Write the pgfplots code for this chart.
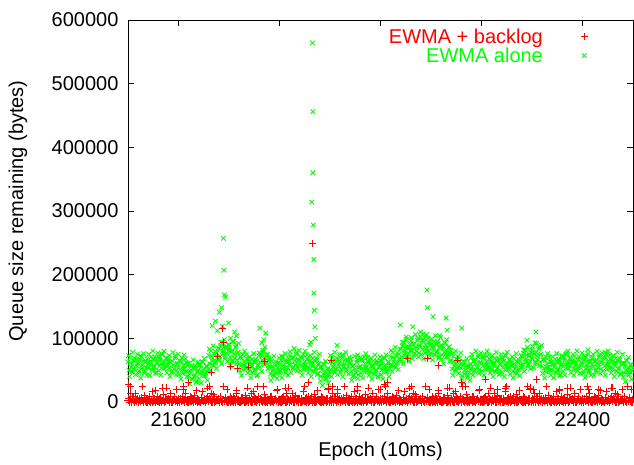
\documentclass[border=0pt]{standalone}
\usepackage{fontspec}
\setmainfont{Liberation Sans}
\usepackage{pgfplots}
\pgfplotsset{compat=1.18}
\definecolor{gpred}{RGB}{255,0,0}
\definecolor{gpgreen}{RGB}{0,255,0}
\newcommand\gpfont{\fontsize{20}{24}\selectfont}

\begin{document}
\begin{tikzpicture}[font=\gpfont]
\begin{axis}[
  at={(0,0)}, anchor=south west,
  scale only axis, width=505pt, height=382pt,
  xmin=21500, xmax=22500, ymin=0, ymax=600,
  xtick={21600,21800,22000,22200,22400},
  ytick={0,100,200,300,400,500,600},
  yticklabels={0,100000,200000,300000,400000,500000,600000},
  scaled x ticks=false,
  /pgf/number format/1000 sep={},
  /pgf/number format/assume math mode=true,
  tick align=inside, tick pos=both, major tick length=6pt,
  every tick/.style={black, line width=0.8pt},
  axis line style={line width=0.8pt},
  tick label style={font=\gpfont},
  label style={font=\gpfont},
  xticklabel style={yshift=-7pt},
  yticklabel style={xshift=-6pt},
  xlabel={Epoch (10ms)}, ylabel={Queue size remaining (bytes)},
  xlabel style={at={(axis description cs:0.5,-0.1283)}, anchor=center},
  ylabel style={at={(axis description cs:-0.2178,0.5)}, anchor=center},
  clip=false,
  reverse legend,
  legend cell align=right, legend plot pos=right,
  legend style={at={(axis description cs:0.917,0.986)}, anchor=north east,
    draw=none, fill=none, font=\gpfont, column sep=37pt, row sep=1pt,
    nodes={inner sep=1pt}},
  gpg/.style={only marks, mark=x, mark size=3.2pt, color=gpgreen, mark options={line width=0.9pt}},
  gpr/.style={only marks, mark=+, mark size=3.5pt, color=gpred, mark options={draw=gpred, line width=0.9pt}},
]
% EWMA alone (values in units of 1000 bytes)
\addplot[gpg] table[row sep=\\] {x y\\
21500 63\\ 21502 50\\ 21504 70\\ 21506 55\\ 21508 59\\ 21510 47\\ 21512 65\\ 21514 53\\ 21516 67\\ 21518 56\\
21520 61\\ 21522 49\\ 21524 72\\ 21526 52\\ 21528 58\\ 21530 64\\ 21532 46\\ 21534 62\\ 21536 54\\ 21538 68\\
21540 53\\ 21542 63\\ 21544 59\\ 21546 71\\ 21548 50\\ 21550 66\\ 21552 56\\ 21554 68\\ 21556 47\\ 21558 62\\
21560 71\\ 21562 56\\ 21564 66\\ 21566 60\\ 21568 75\\ 21570 53\\ 21572 63\\ 21574 57\\ 21576 69\\ 21578 59\\
21580 68\\ 21582 54\\ 21584 62\\ 21586 46\\ 21588 64\\ 21590 58\\ 21592 52\\ 21594 72\\ 21596 49\\ 21598 61\\
21600 54\\ 21602 65\\ 21604 51\\ 21606 63\\ 21608 45\\ 21610 57\\ 21612 53\\ 21614 68\\ 21616 48\\ 21618 61\\
21620 39\\ 21622 49\\ 21624 45\\ 21626 57\\ 21628 36\\ 21630 52\\ 21632 42\\ 21634 54\\ 21636 33\\ 21638 48\\
21640 59\\ 21642 44\\ 21644 54\\ 21646 48\\ 21648 63\\ 21650 41\\ 21652 51\\ 21654 45\\ 21656 57\\ 21658 47\\
21660 73\\ 21662 60\\ 21664 80\\ 21666 65\\ 21668 69\\ 21670 57\\ 21672 75\\ 21674 63\\ 21676 77\\ 21678 66\\
21680 83\\ 21682 71\\ 21684 94\\ 21686 74\\ 21688 80\\ 21690 86\\ 21692 68\\ 21694 84\\ 21696 76\\ 21698 90\\
21700 85\\ 21702 71\\ 21704 79\\ 21706 63\\ 21708 81\\ 21710 75\\ 21712 69\\ 21714 89\\ 21716 66\\ 21718 78\\
21720 60\\ 21722 71\\ 21724 57\\ 21726 69\\ 21728 51\\ 21730 63\\ 21732 59\\ 21734 74\\ 21736 54\\ 21738 67\\
21740 49\\ 21742 59\\ 21744 55\\ 21746 67\\ 21748 46\\ 21750 62\\ 21752 52\\ 21754 64\\ 21756 43\\ 21758 58\\
21760 77\\ 21762 62\\ 21764 72\\ 21766 66\\ 21768 81\\ 21770 59\\ 21772 69\\ 21774 63\\ 21776 75\\ 21778 65\\
21780 57\\ 21782 44\\ 21784 64\\ 21786 49\\ 21788 53\\ 21790 41\\ 21792 59\\ 21794 47\\ 21796 61\\ 21798 50\\
21800 61\\ 21802 49\\ 21804 72\\ 21806 52\\ 21808 58\\ 21810 64\\ 21812 46\\ 21814 62\\ 21816 54\\ 21818 68\\
21820 74\\ 21822 60\\ 21824 68\\ 21826 52\\ 21828 70\\ 21830 64\\ 21832 58\\ 21834 78\\ 21836 55\\ 21838 67\\
21840 60\\ 21842 71\\ 21844 57\\ 21846 69\\ 21848 51\\ 21850 63\\ 21852 59\\ 21854 74\\ 21856 54\\ 21858 67\\
21860 51\\ 21862 61\\ 21864 57\\ 21866 69\\ 21868 48\\ 21870 64\\ 21872 54\\ 21874 66\\ 21876 45\\ 21878 60\\
21880 55\\ 21882 40\\ 21884 50\\ 21886 44\\ 21888 59\\ 21890 37\\ 21892 47\\ 21894 41\\ 21896 53\\ 21898 43\\
21900 63\\ 21902 50\\ 21904 70\\ 21906 55\\ 21908 59\\ 21910 47\\ 21912 65\\ 21914 53\\ 21916 67\\ 21918 56\\
21920 63\\ 21922 51\\ 21924 74\\ 21926 54\\ 21928 60\\ 21930 66\\ 21932 48\\ 21934 64\\ 21936 56\\ 21938 70\\
21940 62\\ 21942 48\\ 21944 56\\ 21946 40\\ 21948 58\\ 21950 52\\ 21952 46\\ 21954 66\\ 21956 43\\ 21958 55\\
21960 56\\ 21962 67\\ 21964 53\\ 21966 65\\ 21968 47\\ 21970 59\\ 21972 55\\ 21974 70\\ 21976 50\\ 21978 63\\
21980 47\\ 21982 57\\ 21984 53\\ 21986 65\\ 21988 44\\ 21990 60\\ 21992 50\\ 21994 62\\ 21996 41\\ 21998 56\\
22000 65\\ 22002 50\\ 22004 60\\ 22006 54\\ 22008 69\\ 22010 47\\ 22012 57\\ 22014 51\\ 22016 63\\ 22018 53\\
22020 71\\ 22022 58\\ 22024 78\\ 22026 63\\ 22028 67\\ 22030 55\\ 22032 73\\ 22034 61\\ 22036 75\\ 22038 64\\
22040 83\\ 22042 71\\ 22044 94\\ 22046 74\\ 22048 80\\ 22050 86\\ 22052 68\\ 22054 84\\ 22056 76\\ 22058 90\\
22060 96\\ 22062 82\\ 22064 90\\ 22066 74\\ 22068 92\\ 22070 86\\ 22072 80\\ 22074 100\\ 22076 77\\ 22078 89\\
22080 86\\ 22082 97\\ 22084 83\\ 22086 95\\ 22088 77\\ 22090 89\\ 22092 85\\ 22094 100\\ 22096 80\\ 22098 93\\
22100 77\\ 22102 87\\ 22104 83\\ 22106 95\\ 22108 74\\ 22110 90\\ 22112 80\\ 22114 92\\ 22116 71\\ 22118 86\\
22120 89\\ 22122 74\\ 22124 84\\ 22126 78\\ 22128 93\\ 22130 71\\ 22132 81\\ 22134 75\\ 22136 87\\ 22138 77\\
22140 65\\ 22142 52\\ 22144 72\\ 22146 57\\ 22148 61\\ 22150 49\\ 22152 67\\ 22154 55\\ 22156 69\\ 22158 58\\
22160 53\\ 22162 41\\ 22164 64\\ 22166 44\\ 22168 50\\ 22170 56\\ 22172 38\\ 22174 54\\ 22176 46\\ 22178 60\\
22180 70\\ 22182 56\\ 22184 64\\ 22186 48\\ 22188 66\\ 22190 60\\ 22192 54\\ 22194 74\\ 22196 51\\ 22198 63\\
22200 60\\ 22202 71\\ 22204 57\\ 22206 69\\ 22208 51\\ 22210 63\\ 22212 59\\ 22214 74\\ 22216 54\\ 22218 67\\
22220 51\\ 22222 61\\ 22224 57\\ 22226 69\\ 22228 48\\ 22230 64\\ 22232 54\\ 22234 66\\ 22236 45\\ 22238 60\\
22240 69\\ 22242 54\\ 22244 64\\ 22246 58\\ 22248 73\\ 22250 51\\ 22252 61\\ 22254 55\\ 22256 67\\ 22258 57\\
22260 61\\ 22262 48\\ 22264 68\\ 22266 53\\ 22268 57\\ 22270 45\\ 22272 63\\ 22274 51\\ 22276 65\\ 22278 54\\
22280 71\\ 22282 59\\ 22284 82\\ 22286 62\\ 22288 68\\ 22290 74\\ 22292 56\\ 22294 72\\ 22296 64\\ 22298 78\\
22300 82\\ 22302 68\\ 22304 76\\ 22306 60\\ 22308 78\\ 22310 72\\ 22312 66\\ 22314 86\\ 22316 63\\ 22318 75\\
22320 56\\ 22322 67\\ 22324 53\\ 22326 65\\ 22328 47\\ 22330 59\\ 22332 55\\ 22334 70\\ 22336 50\\ 22338 63\\
22340 49\\ 22342 59\\ 22344 55\\ 22346 67\\ 22348 46\\ 22350 62\\ 22352 52\\ 22354 64\\ 22356 43\\ 22358 58\\
22360 71\\ 22362 56\\ 22364 66\\ 22366 60\\ 22368 75\\ 22370 53\\ 22372 63\\ 22374 57\\ 22376 69\\ 22378 59\\
22380 65\\ 22382 52\\ 22384 72\\ 22386 57\\ 22388 61\\ 22390 49\\ 22392 67\\ 22394 55\\ 22396 69\\ 22398 58\\
22400 61\\ 22402 49\\ 22404 72\\ 22406 52\\ 22408 58\\ 22410 64\\ 22412 46\\ 22414 62\\ 22416 54\\ 22418 68\\
22420 70\\ 22422 56\\ 22424 64\\ 22426 48\\ 22428 66\\ 22430 60\\ 22432 54\\ 22434 74\\ 22436 51\\ 22438 63\\
22440 60\\ 22442 71\\ 22444 57\\ 22446 69\\ 22448 51\\ 22450 63\\ 22452 59\\ 22454 74\\ 22456 54\\ 22458 67\\
22460 51\\ 22462 61\\ 22464 57\\ 22466 69\\ 22468 48\\ 22470 64\\ 22472 54\\ 22474 66\\ 22476 45\\ 22478 60\\
22480 61\\ 22482 46\\ 22484 56\\ 22486 50\\ 22488 65\\ 22490 43\\ 22492 53\\ 22494 47\\ 22496 59\\ 22498 49\\
21501 73\\ 21503 40\\ 21505 62\\ 21507 48\\ 21509 78\\ 21511 52\\ 21513 69\\ 21515 43\\ 21517 60\\ 21519 75\\
21521 45\\ 21523 66\\ 21525 38\\ 21527 71\\ 21529 54\\ 21531 76\\ 21533 49\\ 21535 64\\ 21537 42\\ 21539 59\\
21541 75\\ 21543 42\\ 21545 64\\ 21547 50\\ 21549 80\\ 21551 54\\ 21553 71\\ 21555 45\\ 21557 62\\ 21559 77\\
21561 49\\ 21563 70\\ 21565 42\\ 21567 75\\ 21569 58\\ 21571 80\\ 21573 53\\ 21575 68\\ 21577 46\\ 21579 63\\
21581 73\\ 21583 40\\ 21585 62\\ 21587 48\\ 21589 78\\ 21591 52\\ 21593 69\\ 21595 43\\ 21597 60\\ 21599 75\\
21601 43\\ 21603 64\\ 21605 36\\ 21607 69\\ 21609 52\\ 21611 74\\ 21613 47\\ 21615 62\\ 21617 40\\ 21619 57\\
21621 61\\ 21623 28\\ 21625 50\\ 21627 36\\ 21629 66\\ 21631 40\\ 21633 57\\ 21635 31\\ 21637 48\\ 21639 63\\
21641 37\\ 21643 58\\ 21645 30\\ 21647 63\\ 21649 46\\ 21651 68\\ 21653 41\\ 21655 56\\ 21657 34\\ 21659 51\\
21661 83\\ 21663 50\\ 21665 72\\ 21667 58\\ 21669 88\\ 21671 62\\ 21673 79\\ 21675 53\\ 21677 70\\ 21679 85\\
21681 67\\ 21683 88\\ 21685 60\\ 21687 93\\ 21689 76\\ 21691 98\\ 21693 71\\ 21695 86\\ 21697 64\\ 21699 81\\
21701 90\\ 21703 57\\ 21705 79\\ 21707 65\\ 21709 95\\ 21711 69\\ 21713 86\\ 21715 60\\ 21717 77\\ 21719 92\\
21721 49\\ 21723 70\\ 21725 42\\ 21727 75\\ 21729 58\\ 21731 80\\ 21733 53\\ 21735 68\\ 21737 46\\ 21739 63\\
21741 71\\ 21743 38\\ 21745 60\\ 21747 46\\ 21749 76\\ 21751 50\\ 21753 67\\ 21755 41\\ 21757 58\\ 21759 73\\
21761 55\\ 21763 76\\ 21765 48\\ 21767 81\\ 21769 64\\ 21771 86\\ 21773 59\\ 21775 74\\ 21777 52\\ 21779 69\\
21781 67\\ 21783 34\\ 21785 56\\ 21787 42\\ 21789 72\\ 21791 46\\ 21793 63\\ 21795 37\\ 21797 54\\ 21799 69\\
21801 45\\ 21803 66\\ 21805 38\\ 21807 71\\ 21809 54\\ 21811 76\\ 21813 49\\ 21815 64\\ 21817 42\\ 21819 59\\
21821 79\\ 21823 46\\ 21825 68\\ 21827 54\\ 21829 84\\ 21831 58\\ 21833 75\\ 21835 49\\ 21837 66\\ 21839 81\\
21841 49\\ 21843 70\\ 21845 42\\ 21847 75\\ 21849 58\\ 21851 80\\ 21853 53\\ 21855 68\\ 21857 46\\ 21859 63\\
21861 73\\ 21863 40\\ 21865 62\\ 21867 48\\ 21869 78\\ 21871 52\\ 21873 69\\ 21875 43\\ 21877 60\\ 21879 75\\
21881 33\\ 21883 54\\ 21885 26\\ 21887 59\\ 21889 42\\ 21891 64\\ 21893 37\\ 21895 52\\ 21897 30\\ 21899 47\\
21901 73\\ 21903 40\\ 21905 62\\ 21907 48\\ 21909 78\\ 21911 52\\ 21913 69\\ 21915 43\\ 21917 60\\ 21919 75\\
21921 47\\ 21923 68\\ 21925 40\\ 21927 73\\ 21929 56\\ 21931 78\\ 21933 51\\ 21935 66\\ 21937 44\\ 21939 61\\
21941 67\\ 21943 34\\ 21945 56\\ 21947 42\\ 21949 72\\ 21951 46\\ 21953 63\\ 21955 37\\ 21957 54\\ 21959 69\\
21961 45\\ 21963 66\\ 21965 38\\ 21967 71\\ 21969 54\\ 21971 76\\ 21973 49\\ 21975 64\\ 21977 42\\ 21979 59\\
21981 69\\ 21983 36\\ 21985 58\\ 21987 44\\ 21989 74\\ 21991 48\\ 21993 65\\ 21995 39\\ 21997 56\\ 21999 71\\
22001 43\\ 22003 64\\ 22005 36\\ 22007 69\\ 22009 52\\ 22011 74\\ 22013 47\\ 22015 62\\ 22017 40\\ 22019 57\\
22021 81\\ 22023 48\\ 22025 70\\ 22027 56\\ 22029 86\\ 22031 60\\ 22033 77\\ 22035 51\\ 22037 68\\ 22039 83\\
22041 67\\ 22043 88\\ 22045 60\\ 22047 93\\ 22049 76\\ 22051 98\\ 22053 71\\ 22055 86\\ 22057 64\\ 22059 81\\
22061 101\\ 22063 68\\ 22065 90\\ 22067 76\\ 22069 106\\ 22071 80\\ 22073 97\\ 22075 71\\ 22077 88\\ 22079 103\\
22081 75\\ 22083 96\\ 22085 68\\ 22087 101\\ 22089 84\\ 22091 106\\ 22093 79\\ 22095 94\\ 22097 72\\ 22099 89\\
22101 99\\ 22103 66\\ 22105 88\\ 22107 74\\ 22109 104\\ 22111 78\\ 22113 95\\ 22115 69\\ 22117 86\\ 22119 101\\
22121 67\\ 22123 88\\ 22125 60\\ 22127 93\\ 22129 76\\ 22131 98\\ 22133 71\\ 22135 86\\ 22137 64\\ 22139 81\\
22141 75\\ 22143 42\\ 22145 64\\ 22147 50\\ 22149 80\\ 22151 54\\ 22153 71\\ 22155 45\\ 22157 62\\ 22159 77\\
22161 37\\ 22163 58\\ 22165 30\\ 22167 63\\ 22169 46\\ 22171 68\\ 22173 41\\ 22175 56\\ 22177 34\\ 22179 51\\
22181 75\\ 22183 42\\ 22185 64\\ 22187 50\\ 22189 80\\ 22191 54\\ 22193 71\\ 22195 45\\ 22197 62\\ 22199 77\\
22201 49\\ 22203 70\\ 22205 42\\ 22207 75\\ 22209 58\\ 22211 80\\ 22213 53\\ 22215 68\\ 22217 46\\ 22219 63\\
22221 73\\ 22223 40\\ 22225 62\\ 22227 48\\ 22229 78\\ 22231 52\\ 22233 69\\ 22235 43\\ 22237 60\\ 22239 75\\
22241 47\\ 22243 68\\ 22245 40\\ 22247 73\\ 22249 56\\ 22251 78\\ 22253 51\\ 22255 66\\ 22257 44\\ 22259 61\\
22261 71\\ 22263 38\\ 22265 60\\ 22267 46\\ 22269 76\\ 22271 50\\ 22273 67\\ 22275 41\\ 22277 58\\ 22279 73\\
22281 55\\ 22283 76\\ 22285 48\\ 22287 81\\ 22289 64\\ 22291 86\\ 22293 59\\ 22295 74\\ 22297 52\\ 22299 69\\
22301 87\\ 22303 54\\ 22305 76\\ 22307 62\\ 22309 92\\ 22311 66\\ 22313 83\\ 22315 57\\ 22317 74\\ 22319 89\\
22321 45\\ 22323 66\\ 22325 38\\ 22327 71\\ 22329 54\\ 22331 76\\ 22333 49\\ 22335 64\\ 22337 42\\ 22339 59\\
22341 71\\ 22343 38\\ 22345 60\\ 22347 46\\ 22349 76\\ 22351 50\\ 22353 67\\ 22355 41\\ 22357 58\\ 22359 73\\
22361 49\\ 22363 70\\ 22365 42\\ 22367 75\\ 22369 58\\ 22371 80\\ 22373 53\\ 22375 68\\ 22377 46\\ 22379 63\\
22381 75\\ 22383 42\\ 22385 64\\ 22387 50\\ 22389 80\\ 22391 54\\ 22393 71\\ 22395 45\\ 22397 62\\ 22399 77\\
22401 45\\ 22403 66\\ 22405 38\\ 22407 71\\ 22409 54\\ 22411 76\\ 22413 49\\ 22415 64\\ 22417 42\\ 22419 59\\
22421 75\\ 22423 42\\ 22425 64\\ 22427 50\\ 22429 80\\ 22431 54\\ 22433 71\\ 22435 45\\ 22437 62\\ 22439 77\\
22441 49\\ 22443 70\\ 22445 42\\ 22447 75\\ 22449 58\\ 22451 80\\ 22453 53\\ 22455 68\\ 22457 46\\ 22459 63\\
22461 73\\ 22463 40\\ 22465 62\\ 22467 48\\ 22469 78\\ 22471 52\\ 22473 69\\ 22475 43\\ 22477 60\\ 22479 75\\
22481 39\\ 22483 60\\ 22485 32\\ 22487 65\\ 22489 48\\ 22491 70\\ 22493 43\\ 22495 58\\ 22497 36\\ 22499 53\\
};
\addlegendentry{\textcolor{gpgreen}{EWMA alone}}
% EWMA alone: bursts
\addplot[gpg, forget plot] table[row sep=\\] {x y\\
21667 120\\ 21673 127\\ 21681 141\\ 21685 148\\ 21689 257\\ 21690 207\\ 21691 168\\ 21693 165\\ 21687 119\\ 21699 124\\
21703 100\\ 21711 110\\ 21707 95\\ 21715 104\\ 21677 112\\ 21761 116\\ 21773 108\\ 21765 93\\ 21767 78\\ 21769 98\\
21860 90\\ 21862 94\\ 21864 314\\ 21865 564\\ 21866 456\\ 21866 360\\ 21867 278\\ 21868 224\\ 21868 171\\ 21869 144\\
21870 118\\ 21871 100\\ 21914 89\\ 21955 74\\ 22039 121\\ 22064 118\\ 22092 176\\ 22093 148\\ 22104 134\\ 22132 113\\
22130 132\\ 22161 116\\ 22079 110\\ 22051 102\\ 22085 107\\ 22117 104\\ 22290 97\\ 22308 110\\ 22306 93\\ 22369 77\\
22411 82\\ 22445 78\\
};
% EWMA + backlog (values in units of 1000 bytes)
\addplot[gpr] table[row sep=\\] {x y\\
21500 2\\ 21502 0\\ 21504 5\\ 21506 1\\ 21508 9\\ 21510 3\\ 21512 0\\ 21514 14\\ 21516 1\\ 21518 4\\
21520 0\\ 21522 3\\ 21524 1\\ 21526 7\\ 21528 2\\ 21530 0\\ 21532 11\\ 21534 1\\ 21536 3\\ 21538 0\\
21540 4\\ 21542 1\\ 21544 0\\ 21546 2\\ 21548 17\\ 21550 1\\ 21552 5\\ 21554 0\\ 21556 2\\ 21558 8\\
21560 1\\ 21562 6\\ 21564 2\\ 21566 0\\ 21568 3\\ 21570 12\\ 21572 0\\ 21574 1\\ 21576 4\\ 21578 2\\
21580 3\\ 21582 0\\ 21584 9\\ 21586 1\\ 21588 0\\ 21590 2\\ 21592 6\\ 21594 1\\ 21596 19\\ 21598 0\\
21600 2\\ 21602 0\\ 21604 5\\ 21606 1\\ 21608 9\\ 21610 3\\ 21612 0\\ 21614 14\\ 21616 1\\ 21618 4\\
21620 0\\ 21622 3\\ 21624 1\\ 21626 7\\ 21628 2\\ 21630 0\\ 21632 11\\ 21634 1\\ 21636 3\\ 21638 0\\
21640 4\\ 21642 1\\ 21644 0\\ 21646 2\\ 21648 17\\ 21650 1\\ 21652 5\\ 21654 0\\ 21656 2\\ 21658 8\\
21660 1\\ 21662 6\\ 21664 2\\ 21666 0\\ 21668 3\\ 21670 12\\ 21672 0\\ 21674 1\\ 21676 4\\ 21678 2\\
21680 3\\ 21682 0\\ 21684 9\\ 21686 1\\ 21688 0\\ 21690 2\\ 21692 6\\ 21694 1\\ 21696 19\\ 21698 0\\
21700 2\\ 21702 0\\ 21704 5\\ 21706 1\\ 21708 9\\ 21710 3\\ 21712 0\\ 21714 14\\ 21716 1\\ 21718 4\\
21720 0\\ 21722 3\\ 21724 1\\ 21726 7\\ 21728 2\\ 21730 0\\ 21732 11\\ 21734 1\\ 21736 3\\ 21738 0\\
21740 4\\ 21742 1\\ 21744 0\\ 21746 2\\ 21748 17\\ 21750 1\\ 21752 5\\ 21754 0\\ 21756 2\\ 21758 8\\
21760 1\\ 21762 6\\ 21764 2\\ 21766 0\\ 21768 3\\ 21770 12\\ 21772 0\\ 21774 1\\ 21776 4\\ 21778 2\\
21780 3\\ 21782 0\\ 21784 9\\ 21786 1\\ 21788 0\\ 21790 2\\ 21792 6\\ 21794 1\\ 21796 19\\ 21798 0\\
21800 2\\ 21802 0\\ 21804 5\\ 21806 1\\ 21808 9\\ 21810 3\\ 21812 0\\ 21814 14\\ 21816 1\\ 21818 4\\
21820 0\\ 21822 3\\ 21824 1\\ 21826 7\\ 21828 2\\ 21830 0\\ 21832 11\\ 21834 1\\ 21836 3\\ 21838 0\\
21840 4\\ 21842 1\\ 21844 0\\ 21846 2\\ 21848 17\\ 21850 1\\ 21852 5\\ 21854 0\\ 21856 2\\ 21858 8\\
21860 1\\ 21862 6\\ 21864 2\\ 21866 0\\ 21868 3\\ 21870 12\\ 21872 0\\ 21874 1\\ 21876 4\\ 21878 2\\
21880 3\\ 21882 0\\ 21884 9\\ 21886 1\\ 21888 0\\ 21890 2\\ 21892 6\\ 21894 1\\ 21896 19\\ 21898 0\\
21900 2\\ 21902 0\\ 21904 5\\ 21906 1\\ 21908 9\\ 21910 3\\ 21912 0\\ 21914 14\\ 21916 1\\ 21918 4\\
21920 0\\ 21922 3\\ 21924 1\\ 21926 7\\ 21928 2\\ 21930 0\\ 21932 11\\ 21934 1\\ 21936 3\\ 21938 0\\
21940 4\\ 21942 1\\ 21944 0\\ 21946 2\\ 21948 17\\ 21950 1\\ 21952 5\\ 21954 0\\ 21956 2\\ 21958 8\\
21960 1\\ 21962 6\\ 21964 2\\ 21966 0\\ 21968 3\\ 21970 12\\ 21972 0\\ 21974 1\\ 21976 4\\ 21978 2\\
21980 3\\ 21982 0\\ 21984 9\\ 21986 1\\ 21988 0\\ 21990 2\\ 21992 6\\ 21994 1\\ 21996 19\\ 21998 0\\
22000 2\\ 22002 0\\ 22004 5\\ 22006 1\\ 22008 9\\ 22010 3\\ 22012 0\\ 22014 14\\ 22016 1\\ 22018 4\\
22020 0\\ 22022 3\\ 22024 1\\ 22026 7\\ 22028 2\\ 22030 0\\ 22032 11\\ 22034 1\\ 22036 3\\ 22038 0\\
22040 4\\ 22042 1\\ 22044 0\\ 22046 2\\ 22048 17\\ 22050 1\\ 22052 5\\ 22054 0\\ 22056 2\\ 22058 8\\
22060 1\\ 22062 6\\ 22064 2\\ 22066 0\\ 22068 3\\ 22070 12\\ 22072 0\\ 22074 1\\ 22076 4\\ 22078 2\\
22080 3\\ 22082 0\\ 22084 9\\ 22086 1\\ 22088 0\\ 22090 2\\ 22092 6\\ 22094 1\\ 22096 19\\ 22098 0\\
22100 2\\ 22102 0\\ 22104 5\\ 22106 1\\ 22108 9\\ 22110 3\\ 22112 0\\ 22114 14\\ 22116 1\\ 22118 4\\
22120 0\\ 22122 3\\ 22124 1\\ 22126 7\\ 22128 2\\ 22130 0\\ 22132 11\\ 22134 1\\ 22136 3\\ 22138 0\\
22140 4\\ 22142 1\\ 22144 0\\ 22146 2\\ 22148 17\\ 22150 1\\ 22152 5\\ 22154 0\\ 22156 2\\ 22158 8\\
22160 1\\ 22162 6\\ 22164 2\\ 22166 0\\ 22168 3\\ 22170 12\\ 22172 0\\ 22174 1\\ 22176 4\\ 22178 2\\
22180 3\\ 22182 0\\ 22184 9\\ 22186 1\\ 22188 0\\ 22190 2\\ 22192 6\\ 22194 1\\ 22196 19\\ 22198 0\\
22200 2\\ 22202 0\\ 22204 5\\ 22206 1\\ 22208 9\\ 22210 3\\ 22212 0\\ 22214 14\\ 22216 1\\ 22218 4\\
22220 0\\ 22222 3\\ 22224 1\\ 22226 7\\ 22228 2\\ 22230 0\\ 22232 11\\ 22234 1\\ 22236 3\\ 22238 0\\
22240 4\\ 22242 1\\ 22244 0\\ 22246 2\\ 22248 17\\ 22250 1\\ 22252 5\\ 22254 0\\ 22256 2\\ 22258 8\\
22260 1\\ 22262 6\\ 22264 2\\ 22266 0\\ 22268 3\\ 22270 12\\ 22272 0\\ 22274 1\\ 22276 4\\ 22278 2\\
22280 3\\ 22282 0\\ 22284 9\\ 22286 1\\ 22288 0\\ 22290 2\\ 22292 6\\ 22294 1\\ 22296 19\\ 22298 0\\
22300 2\\ 22302 0\\ 22304 5\\ 22306 1\\ 22308 9\\ 22310 3\\ 22312 0\\ 22314 14\\ 22316 1\\ 22318 4\\
22320 0\\ 22322 3\\ 22324 1\\ 22326 7\\ 22328 2\\ 22330 0\\ 22332 11\\ 22334 1\\ 22336 3\\ 22338 0\\
22340 4\\ 22342 1\\ 22344 0\\ 22346 2\\ 22348 17\\ 22350 1\\ 22352 5\\ 22354 0\\ 22356 2\\ 22358 8\\
22360 1\\ 22362 6\\ 22364 2\\ 22366 0\\ 22368 3\\ 22370 12\\ 22372 0\\ 22374 1\\ 22376 4\\ 22378 2\\
22380 3\\ 22382 0\\ 22384 9\\ 22386 1\\ 22388 0\\ 22390 2\\ 22392 6\\ 22394 1\\ 22396 19\\ 22398 0\\
22400 2\\ 22402 0\\ 22404 5\\ 22406 1\\ 22408 9\\ 22410 3\\ 22412 0\\ 22414 14\\ 22416 1\\ 22418 4\\
22420 0\\ 22422 3\\ 22424 1\\ 22426 7\\ 22428 2\\ 22430 0\\ 22432 11\\ 22434 1\\ 22436 3\\ 22438 0\\
22440 4\\ 22442 1\\ 22444 0\\ 22446 2\\ 22448 17\\ 22450 1\\ 22452 5\\ 22454 0\\ 22456 2\\ 22458 8\\
22460 1\\ 22462 6\\ 22464 2\\ 22466 0\\ 22468 3\\ 22470 12\\ 22472 0\\ 22474 1\\ 22476 4\\ 22478 2\\
22480 3\\ 22482 0\\ 22484 9\\ 22486 1\\ 22488 0\\ 22490 2\\ 22492 6\\ 22494 1\\ 22496 19\\ 22498 0\\
21501 6\\ 21503 2\\ 21505 13\\ 21507 0\\ 21509 4\\ 21511 8\\ 21513 1\\ 21515 3\\ 21517 2\\ 21519 5\\
21521 0\\ 21523 5\\ 21525 1\\ 21527 2\\ 21529 25\\ 21531 1\\ 21533 7\\ 21535 3\\ 21537 0\\ 21539 4\\
21541 3\\ 21543 9\\ 21545 1\\ 21547 4\\ 21549 0\\ 21551 6\\ 21553 2\\ 21555 18\\ 21557 4\\ 21559 1\\
21561 1\\ 21563 0\\ 21565 7\\ 21567 3\\ 21569 2\\ 21571 2\\ 21573 0\\ 21575 5\\ 21577 22\\ 21579 2\\
21581 6\\ 21583 2\\ 21585 13\\ 21587 0\\ 21589 4\\ 21591 8\\ 21593 1\\ 21595 3\\ 21597 2\\ 21599 5\\
21601 0\\ 21603 5\\ 21605 1\\ 21607 2\\ 21609 25\\ 21611 1\\ 21613 7\\ 21615 3\\ 21617 0\\ 21619 4\\
21621 3\\ 21623 9\\ 21625 1\\ 21627 4\\ 21629 0\\ 21631 6\\ 21633 2\\ 21635 18\\ 21637 4\\ 21639 1\\
21641 1\\ 21643 0\\ 21645 7\\ 21647 3\\ 21649 2\\ 21651 2\\ 21653 0\\ 21655 5\\ 21657 22\\ 21659 2\\
21661 6\\ 21663 2\\ 21665 13\\ 21667 0\\ 21669 4\\ 21671 8\\ 21673 1\\ 21675 3\\ 21677 2\\ 21679 5\\
21681 0\\ 21683 5\\ 21685 1\\ 21687 2\\ 21689 25\\ 21691 1\\ 21693 7\\ 21695 3\\ 21697 0\\ 21699 4\\
21701 3\\ 21703 9\\ 21705 1\\ 21707 4\\ 21709 0\\ 21711 6\\ 21713 2\\ 21715 18\\ 21717 4\\ 21719 1\\
21721 1\\ 21723 0\\ 21725 7\\ 21727 3\\ 21729 2\\ 21731 2\\ 21733 0\\ 21735 5\\ 21737 22\\ 21739 2\\
21741 6\\ 21743 2\\ 21745 13\\ 21747 0\\ 21749 4\\ 21751 8\\ 21753 1\\ 21755 3\\ 21757 2\\ 21759 5\\
21761 0\\ 21763 5\\ 21765 1\\ 21767 2\\ 21769 25\\ 21771 1\\ 21773 7\\ 21775 3\\ 21777 0\\ 21779 4\\
21781 3\\ 21783 9\\ 21785 1\\ 21787 4\\ 21789 0\\ 21791 6\\ 21793 2\\ 21795 18\\ 21797 4\\ 21799 1\\
21801 1\\ 21803 0\\ 21805 7\\ 21807 3\\ 21809 2\\ 21811 2\\ 21813 0\\ 21815 5\\ 21817 22\\ 21819 2\\
21821 6\\ 21823 2\\ 21825 13\\ 21827 0\\ 21829 4\\ 21831 8\\ 21833 1\\ 21835 3\\ 21837 2\\ 21839 5\\
21841 0\\ 21843 5\\ 21845 1\\ 21847 2\\ 21849 25\\ 21851 1\\ 21853 7\\ 21855 3\\ 21857 0\\ 21859 4\\
21861 3\\ 21863 9\\ 21865 1\\ 21867 4\\ 21869 0\\ 21871 6\\ 21873 2\\ 21875 18\\ 21877 4\\ 21879 1\\
21881 1\\ 21883 0\\ 21885 7\\ 21887 3\\ 21889 2\\ 21891 2\\ 21893 0\\ 21895 5\\ 21897 22\\ 21899 2\\
21901 6\\ 21903 2\\ 21905 13\\ 21907 0\\ 21909 4\\ 21911 8\\ 21913 1\\ 21915 3\\ 21917 2\\ 21919 5\\
21921 0\\ 21923 5\\ 21925 1\\ 21927 2\\ 21929 25\\ 21931 1\\ 21933 7\\ 21935 3\\ 21937 0\\ 21939 4\\
21941 3\\ 21943 9\\ 21945 1\\ 21947 4\\ 21949 0\\ 21951 6\\ 21953 2\\ 21955 18\\ 21957 4\\ 21959 1\\
21961 1\\ 21963 0\\ 21965 7\\ 21967 3\\ 21969 2\\ 21971 2\\ 21973 0\\ 21975 5\\ 21977 22\\ 21979 2\\
21981 6\\ 21983 2\\ 21985 13\\ 21987 0\\ 21989 4\\ 21991 8\\ 21993 1\\ 21995 3\\ 21997 2\\ 21999 5\\
22001 0\\ 22003 5\\ 22005 1\\ 22007 2\\ 22009 25\\ 22011 1\\ 22013 7\\ 22015 3\\ 22017 0\\ 22019 4\\
22021 3\\ 22023 9\\ 22025 1\\ 22027 4\\ 22029 0\\ 22031 6\\ 22033 2\\ 22035 18\\ 22037 4\\ 22039 1\\
22041 1\\ 22043 0\\ 22045 7\\ 22047 3\\ 22049 2\\ 22051 2\\ 22053 0\\ 22055 5\\ 22057 22\\ 22059 2\\
22061 6\\ 22063 2\\ 22065 13\\ 22067 0\\ 22069 4\\ 22071 8\\ 22073 1\\ 22075 3\\ 22077 2\\ 22079 5\\
22081 0\\ 22083 5\\ 22085 1\\ 22087 2\\ 22089 25\\ 22091 1\\ 22093 7\\ 22095 3\\ 22097 0\\ 22099 4\\
22101 3\\ 22103 9\\ 22105 1\\ 22107 4\\ 22109 0\\ 22111 6\\ 22113 2\\ 22115 18\\ 22117 4\\ 22119 1\\
22121 1\\ 22123 0\\ 22125 7\\ 22127 3\\ 22129 2\\ 22131 2\\ 22133 0\\ 22135 5\\ 22137 22\\ 22139 2\\
22141 6\\ 22143 2\\ 22145 13\\ 22147 0\\ 22149 4\\ 22151 8\\ 22153 1\\ 22155 3\\ 22157 2\\ 22159 5\\
22161 0\\ 22163 5\\ 22165 1\\ 22167 2\\ 22169 25\\ 22171 1\\ 22173 7\\ 22175 3\\ 22177 0\\ 22179 4\\
22181 3\\ 22183 9\\ 22185 1\\ 22187 4\\ 22189 0\\ 22191 6\\ 22193 2\\ 22195 18\\ 22197 4\\ 22199 1\\
22201 1\\ 22203 0\\ 22205 7\\ 22207 3\\ 22209 2\\ 22211 2\\ 22213 0\\ 22215 5\\ 22217 22\\ 22219 2\\
22221 6\\ 22223 2\\ 22225 13\\ 22227 0\\ 22229 4\\ 22231 8\\ 22233 1\\ 22235 3\\ 22237 2\\ 22239 5\\
22241 0\\ 22243 5\\ 22245 1\\ 22247 2\\ 22249 25\\ 22251 1\\ 22253 7\\ 22255 3\\ 22257 0\\ 22259 4\\
22261 3\\ 22263 9\\ 22265 1\\ 22267 4\\ 22269 0\\ 22271 6\\ 22273 2\\ 22275 18\\ 22277 4\\ 22279 1\\
22281 1\\ 22283 0\\ 22285 7\\ 22287 3\\ 22289 2\\ 22291 2\\ 22293 0\\ 22295 5\\ 22297 22\\ 22299 2\\
22301 6\\ 22303 2\\ 22305 13\\ 22307 0\\ 22309 4\\ 22311 8\\ 22313 1\\ 22315 3\\ 22317 2\\ 22319 5\\
22321 0\\ 22323 5\\ 22325 1\\ 22327 2\\ 22329 25\\ 22331 1\\ 22333 7\\ 22335 3\\ 22337 0\\ 22339 4\\
22341 3\\ 22343 9\\ 22345 1\\ 22347 4\\ 22349 0\\ 22351 6\\ 22353 2\\ 22355 18\\ 22357 4\\ 22359 1\\
22361 1\\ 22363 0\\ 22365 7\\ 22367 3\\ 22369 2\\ 22371 2\\ 22373 0\\ 22375 5\\ 22377 22\\ 22379 2\\
22381 6\\ 22383 2\\ 22385 13\\ 22387 0\\ 22389 4\\ 22391 8\\ 22393 1\\ 22395 3\\ 22397 2\\ 22399 5\\
22401 0\\ 22403 5\\ 22405 1\\ 22407 2\\ 22409 25\\ 22411 1\\ 22413 7\\ 22415 3\\ 22417 0\\ 22419 4\\
22421 3\\ 22423 9\\ 22425 1\\ 22427 4\\ 22429 0\\ 22431 6\\ 22433 2\\ 22435 18\\ 22437 4\\ 22439 1\\
22441 1\\ 22443 0\\ 22445 7\\ 22447 3\\ 22449 2\\ 22451 2\\ 22453 0\\ 22455 5\\ 22457 22\\ 22459 2\\
22461 6\\ 22463 2\\ 22465 13\\ 22467 0\\ 22469 4\\ 22471 8\\ 22473 1\\ 22475 3\\ 22477 2\\ 22479 5\\
22481 0\\ 22483 5\\ 22485 1\\ 22487 2\\ 22489 25\\ 22491 1\\ 22493 7\\ 22495 3\\ 22497 0\\ 22499 4\\
};
\addlegendentry{\textcolor{gpred}{EWMA + backlog}}
% EWMA + backlog: bursts
\addplot[gpr, forget plot] table[row sep=\\] {x y\\
21501 27\\ 21505 24\\ 21569 22\\ 21609 20\\ 21619 30\\ 21662 25\\ 21666 47\\ 21678 72\\ 21688 115\\ 21689 93\\
21702 56\\ 21716 52\\ 21738 55\\ 21757 24\\ 21771 64\\ 21811 22\\ 21858 31\\ 21865 249\\ 21902 66\\ 21904 25\\
21915 20\\ 21955 24\\ 21977 22\\ 21999 20\\ 22007 28\\ 22013 30\\ 22053 69\\ 22061 24\\ 22093 69\\ 22115 58\\
22133 22\\ 22153 66\\ 22161 30\\ 22163 24\\ 22207 36\\ 22231 19\\ 22247 22\\ 22291 25\\ 22303 19\\ 22309 35\\
22355 20\\ 22371 22\\ 22411 19\\ 22431 19\\ 22459 22\\ 22479 19\\
};
\end{axis}
\pgfresetboundingbox
\path[use as bounding box] (-128pt,-62pt) rectangle (506pt,402pt);
\end{tikzpicture}
\end{document}
